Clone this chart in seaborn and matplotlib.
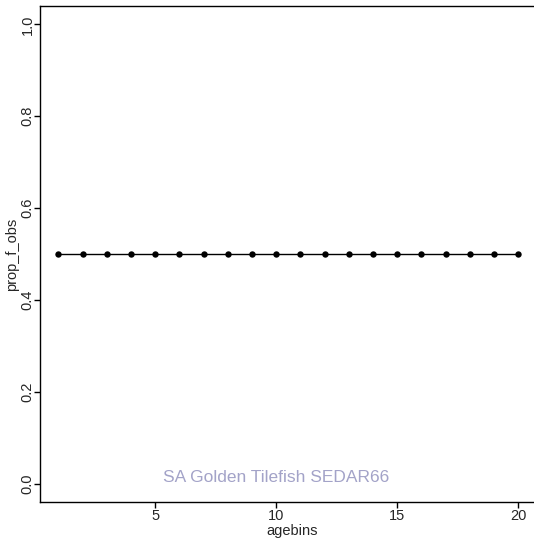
import matplotlib
matplotlib.use("Agg")
import matplotlib.pyplot as plt
import seaborn as sns
import pandas as pd

agebins = list(range(1, 21))
prop_f_obs = [0.5] * 20
yticks = [0.0, 0.2, 0.4, 0.6, 0.8, 1.0]
ytick_labels = ["0.0", "0.2", "0.4", "0.6", "0.8", "1.0"]
xticks = [5, 10, 15, 20]
label_text = "SA Golden Tilefish SEDAR66"

sns.set_style("white")
plt.rcParams['font.family'] = ['Liberation Sans', 'DejaVu Sans']

df = pd.DataFrame({"agebins": agebins, "prop_f_obs": prop_f_obs})

W, H = 534, 539
fig = plt.figure(figsize=(W / 100, H / 100), dpi=100)
ax = fig.add_axes([40 / W, (H - 502) / H, 505 / W, 496 / H])

sns.lineplot(data=df, x="agebins", y="prop_f_obs", ax=ax, color="black",
             linewidth=1.0, marker="o", markersize=4.6, markeredgewidth=0)

ax.set_xlim(0.24, 0.24 + 505 / 24.2)
ax.set_ylim(-0.04, 1.04)
ax.set_xticks(xticks)
ax.set_xticklabels([str(t) for t in xticks], fontsize=10.5)
ax.set_yticks(yticks)
ax.set_yticklabels(ytick_labels, fontsize=10.5, rotation=90, va="center")
ax.tick_params(axis="both", direction="out", length=4, width=1, color="black",
               bottom=True, left=True)
ax.tick_params(axis="x", pad=1)
ax.tick_params(axis="y", pad=0)
for s in ax.spines.values():
    s.set_color("black")
    s.set_linewidth(1.0)
ax.spines["right"].set_visible(False)

ax.set_xlabel("agebins", fontsize=10.5, labelpad=1)
ax.set_ylabel("prop_f_obs", fontsize=10.5, labelpad=1)

ax.text(10.0, 0.013, label_text, color="#A3A3C8", fontsize=12.5,
        ha="center", va="center")

fig.savefig("out.png", dpi=100)
